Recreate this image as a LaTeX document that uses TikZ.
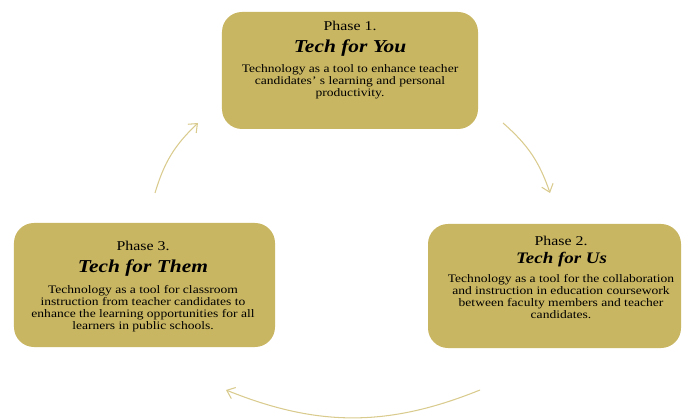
\documentclass[tikz,border=0pt]{standalone}
\usepackage{fontspec}
\setmainfont[FakeStretch=1.18]{Liberation Serif}
\usepackage{tikz}
\usetikzlibrary{arrows.meta}
\definecolor{phasegold}{HTML}{C9B662}
\definecolor{arrowgold}{HTML}{D9CB8E}
\tikzset{phasebox/.style={fill=phasegold, rounded corners=0.6cm, inner sep=0pt},
  phaselabel/.style={font=\fontsize{11.5}{13}\selectfont},
  phasetitle/.style={font=\fontsize{15.5}{17}\selectfont\bfseries\itshape},
  phasedesc/.style={align=center, font=\fontsize{9.8}{10.2}\selectfont},
  cyclearrow/.style={draw=arrowgold, line width=0.9pt, -{Straight Barb[length=2.2mm, width=3.6mm]}}}

\begin{document}
\begin{tikzpicture}[x=0.03cm, y=0.03cm]
    \path[use as bounding box] (0, 0) rectangle (682, 419);

    % the three boxes
    \node[phasebox, minimum width=7.68cm, minimum height=3.51cm] at (350, 348.5) (P1) {};
    \node[phasebox, minimum width=7.59cm, minimum height=3.72cm] at (554.5, 133) (P2) {};
    \node[phasebox, minimum width=7.83cm, minimum height=3.72cm] at (144.5, 134) (P3) {};

    \node[phaselabel] at (350, 393.5) (P1label) {Phase 1.};
    \node[phasetitle] at (350, 371) (P1title) {Tech for You};
    \node[phasedesc] at (350, 337.5) (P1desc) {Technology as a tool to enhance teacher\\ candidates' s learning and personal\\ productivity.};

    \node[phaselabel] at (561, 178) (P2label) {Phase 2.};
    \node[phasetitle, font=\fontsize{13.7}{15}\selectfont\bfseries\itshape] at (561.5, 159) (P2title) {Tech for Us};
    \node[phasedesc] at (561, 122.5) (P2desc) {Technology as a tool for the collaboration\\ and instruction in education coursework\\ between faculty members and teacher\\ candidates.};

    \node[phaselabel] at (143, 173) (P3label) {Phase 3.};
    \node[phasetitle] at (143, 151) (P3title) {Tech for Them};
    \node[phasedesc] at (143, 110) (P3desc) {Technology as a tool for classroom\\ instruction from teacher candidates to\\ enhance the learning opportunities for all\\ learners in public schools.};

    % arrows round the cycle
    \coordinate (A1) at (503, 296);
    \coordinate (A2) at (550, 226);
    \coordinate (B1) at (480, 29);
    \coordinate (B2) at (226, 29);
    \coordinate (C1) at (155, 226);
    \coordinate (C2) at (198, 296);

    \draw[cyclearrow] (A1) to[bend left=15] (A2);
    \draw[cyclearrow] (B1) to[bend left=22] (B2);
    \draw[cyclearrow] (C1) to[bend left=15] (C2);
\end{tikzpicture}
\end{document}
